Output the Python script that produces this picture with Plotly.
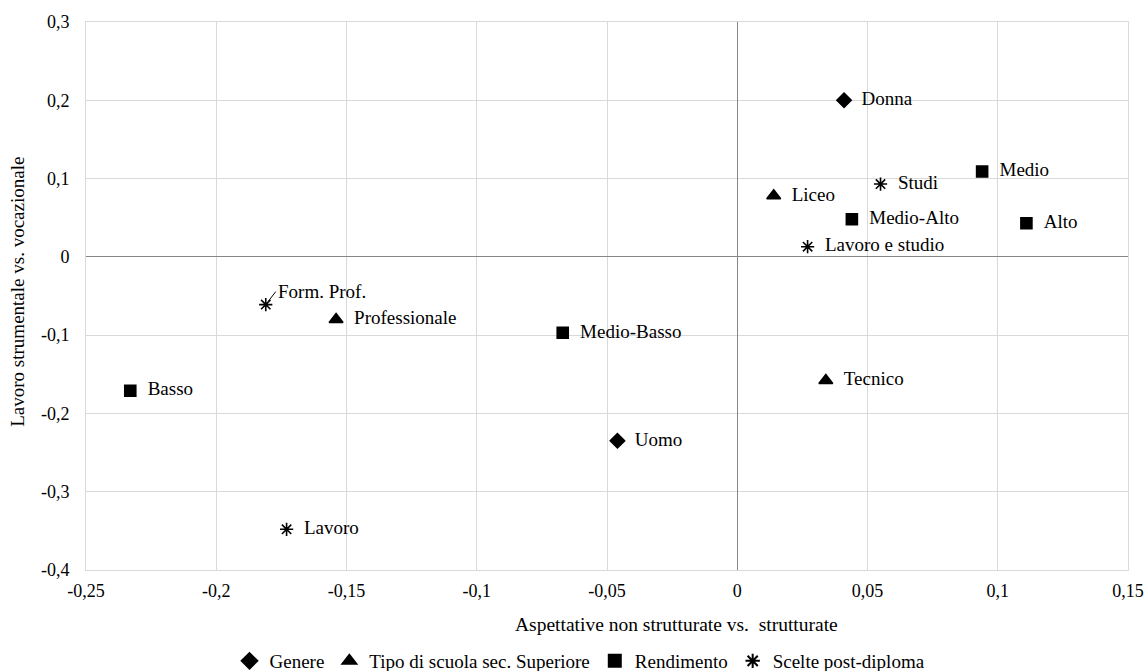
import plotly.graph_objects as go

# ---- data ----
genere_labels = ["Donna", "Uomo"]
genere_x = [0.041, -0.046]
genere_y = [0.200, -0.235]

scuola_labels = ["Liceo", "Professionale", "Tecnico"]
scuola_x = [0.014, -0.154, 0.034]
scuola_y = [0.078, -0.080, -0.158]

rend_labels = ["Medio", "Medio-Alto", "Alto", "Medio-Basso", "Basso"]
rend_x = [0.094, 0.044, 0.111, -0.067, -0.233]
rend_y = [0.109, 0.048, 0.043, -0.097, -0.171]

scelte_labels = ["Studi", "Lavoro e studio", "Form. Prof.", "Lavoro"]
scelte_x = [0.055, 0.027, -0.181, -0.173]
scelte_y = [0.093, 0.013, -0.061, -0.348]

x_tick_vals = [-0.25, -0.2, -0.15, -0.1, -0.05, 0, 0.05, 0.1, 0.15]
x_tick_text = ["-0,25", "-0,2", "-0,15", "-0,1", "-0,05", "0", "0,05", "0,1", "0,15"]
y_tick_vals = [0.3, 0.2, 0.1, 0, -0.1, -0.2, -0.3, -0.4]
y_tick_text = ["0,3", "0,2", "0,1", "0", "-0,1", "-0,2", "-0,3", "-0,4"]

series_names = ["Genere", "Tipo di scuola sec. Superiore", "Rendimento", "Scelte post-diploma"]

FONT = "Liberation Serif"
W, H = 1146, 671
# plot area in window pixels
PX0, PX1, PY0, PY1 = 86, 1128, 22, 570.5
L, R, T, B = PX0, W - PX1, PY0, H - PY1

def px_to_paper_x(px):
    return (px - PX0) / (PX1 - PX0)

def px_to_paper_y(py):
    return (PY1 - py) / (PY1 - PY0)

fig = go.Figure()

def add_series(name, xs, ys, labels, symbol, size, skip_label=()):
    text = ["" if l in skip_label else l for l in labels]
    fig.add_trace(go.Scatter(
        x=xs, y=ys, mode="markers+text", name=name,
        text=text, texttemplate="\u00a0\u00a0%{text}", textposition="middle right",
        textfont=dict(family=FONT, size=19, color="#000"),
        marker=dict(symbol=symbol, size=size, color="#000",
                    line=dict(color="#000", width=1.6)),
        cliponaxis=False,
    ))

add_series(series_names[0], genere_x, genere_y, genere_labels, "diamond", 11)
add_series(series_names[1], scuola_x, scuola_y, scuola_labels, "triangle-up", 12)
add_series(series_names[2], rend_x, rend_y, rend_labels, "square", 11)
add_series(series_names[3], scelte_x, scelte_y, scelte_labels, "asterisk-open", 11,
           skip_label=("Form. Prof.",))

# Form. Prof. label placed above-right with a leader line
i = scelte_labels.index("Form. Prof.")
fig.add_annotation(x=scelte_x[i], y=scelte_y[i], text="Form. Prof.",
                   showarrow=True, arrowhead=0, arrowwidth=1, arrowcolor="#000",
                   ax=10, ay=-13, xanchor="left", yanchor="middle",
                   standoff=4,
                   font=dict(family=FONT, size=19, color="#000"))

# axis titles as annotations (positioned like the reference)
fig.add_annotation(xref="paper", yref="paper", x=px_to_paper_x(676.5), y=px_to_paper_y(625),
                   xanchor="center", yanchor="middle", showarrow=False,
                   text="Aspettative non strutturate vs.  strutturate",
                   font=dict(family=FONT, size=19.5, color="#000"))
fig.add_annotation(xref="paper", yref="paper", x=px_to_paper_x(18), y=px_to_paper_y(292),
                   xanchor="center", yanchor="middle", showarrow=False, textangle=-90,
                   text="Lavoro strumentale vs. vocazionale",
                   font=dict(family=FONT, size=19, color="#000"))

fig.update_layout(
    width=W, height=H,
    margin=dict(l=L, r=R, t=T, b=B, autoexpand=False),
    paper_bgcolor="#fff", plot_bgcolor="#fff",
    font=dict(family=FONT, size=18, color="#000"),
    showlegend=True,
    legend=dict(orientation="h", x=580 / W, xanchor="center", xref="container",
                y=(H - 661) / H, yanchor="middle", yref="container",
                font=dict(family=FONT, size=19, color="#000"),
                itemwidth=30, tracegroupgap=0, itemsizing="constant"),
    xaxis=dict(range=[-0.25, 0.15], tickvals=x_tick_vals, ticktext=x_tick_text,
               showgrid=True, gridcolor="#d9d9d9", gridwidth=1,
               zeroline=True, zerolinecolor="#868686", zerolinewidth=1.3,
               showline=True, linecolor="#d9d9d9", mirror=True,
               ticks="", ticklabelstandoff=4, automargin=False,
               tickfont=dict(family=FONT, size=18, color="#000")),
    yaxis=dict(range=[-0.4, 0.3], tickvals=y_tick_vals, ticktext=y_tick_text,
               showgrid=True, gridcolor="#d9d9d9", gridwidth=1,
               zeroline=True, zerolinecolor="#868686", zerolinewidth=1.3,
               showline=True, linecolor="#d9d9d9", mirror=True,
               ticks="", ticklabelstandoff=12, automargin=False,
               tickfont=dict(family=FONT, size=18, color="#000")),
)

fig.write_html(
    "out.html",
    config={"displayModeBar": False},
    post_script="document.body.style.margin='0';document.body.style.overflow='hidden';",
)
